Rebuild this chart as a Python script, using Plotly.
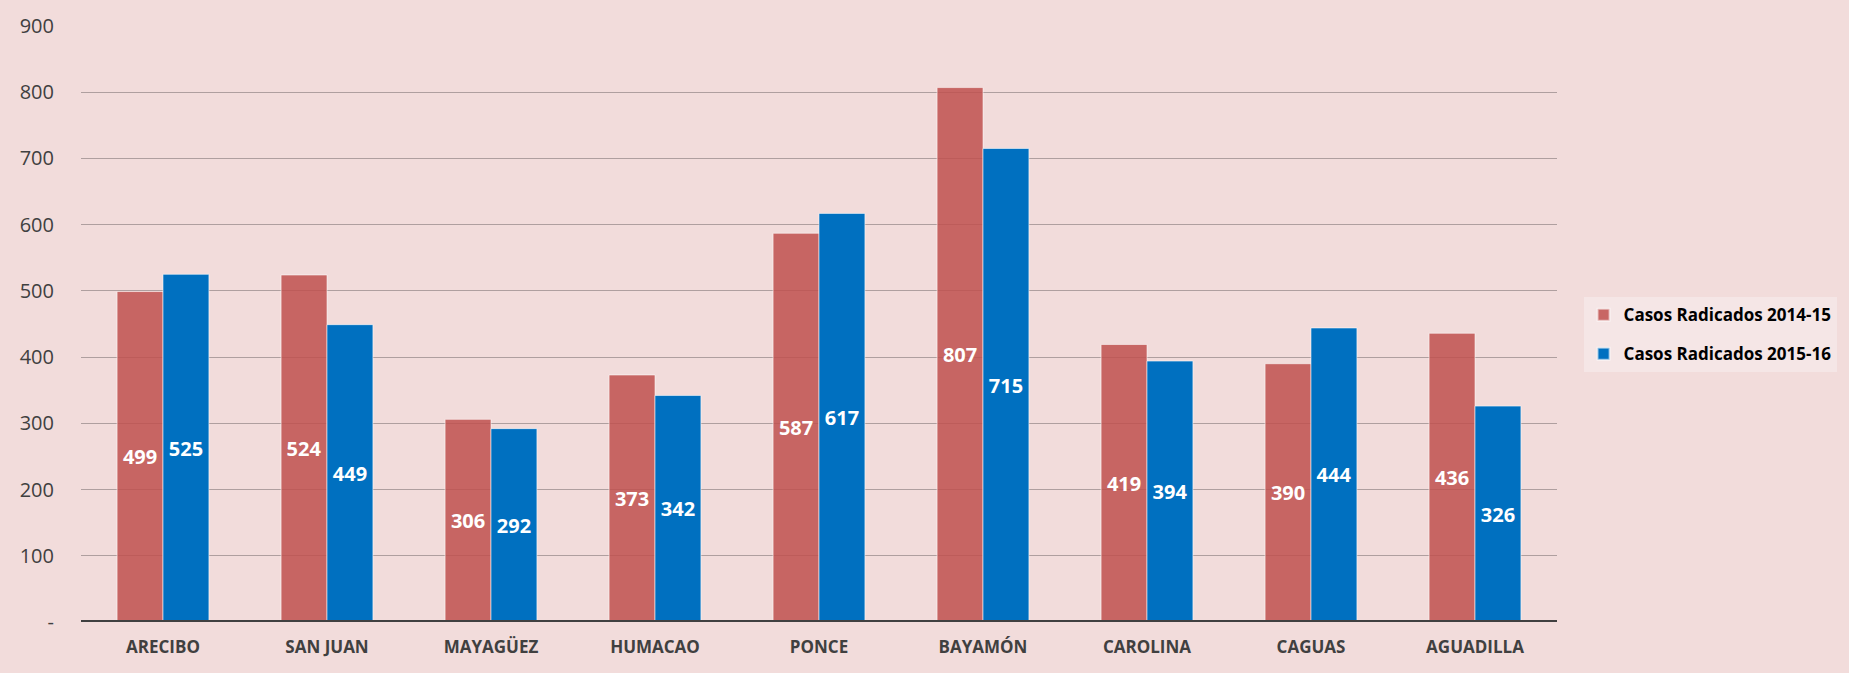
import plotly.graph_objects as go

regions = ["ARECIBO", "SAN JUAN", "MAYAGÜEZ", "HUMACAO", "PONCE", "BAYAMÓN", "CAROLINA", "CAGUAS", "AGUADILLA"]
casos_2014_15 = [499, 524, 306, 373, 587, 807, 419, 390, 436]
casos_2015_16 = [525, 449, 292, 342, 617, 715, 394, 444, 326]
series_names = ["Casos Radicados 2014-15", "Casos Radicados 2015-16"]
y_tickvals = [0, 100, 200, 300, 400, 500, 600, 700, 800, 900]
y_ticktext = ["-", "100", "200", "300", "400", "500", "600", "700", "800", "900"]

BG = "#F2DCDB"
FONT = "Open Sans"

fig = go.Figure()
fig.add_trace(go.Bar(
    x=regions, y=casos_2014_15, name=series_names[0], legendgroup="a",
    marker=dict(color="rgba(192,80,77,0.85)", line=dict(color="rgba(255,255,255,0.55)", width=1)),
    text=[str(v) for v in casos_2014_15], textposition="inside", insidetextanchor="middle",
    textfont=dict(family=FONT, size=20, color="white", weight="bold"),
    textangle=0,
))
fig.add_trace(go.Bar(
    x=regions, y=casos_2015_16, name=series_names[1], legendgroup="b",
    marker=dict(color="#0070C0", line=dict(color="rgba(255,255,255,0.55)", width=1)),
    text=[str(v) for v in casos_2015_16], textposition="inside", insidetextanchor="middle",
    textfont=dict(family=FONT, size=20, color="white", weight="bold"),
    textangle=0,
))

fig.update_layout(
    width=1849, height=673,
    paper_bgcolor=BG, plot_bgcolor=BG,
    barmode="group", bargap=0.44, bargroupgap=0.0,
    margin=dict(l=81, r=292, t=21, b=51),
    font=dict(family=FONT, color="#404040"),
    showlegend=True,
    legend=dict(
        x=1.018, y=0.545, xanchor="left", yanchor="top",
        bgcolor="#F5E6E6", borderwidth=0,
        font=dict(family=FONT, size=17, color="#000000", weight="bold"),
        itemsizing="constant", tracegroupgap=14,
    ),
    xaxis=dict(
        showgrid=False, showline=False, ticks="", ticklabelstandoff=13,
        tickfont=dict(family=FONT, size=17, color="#404040", weight="bold"),
    ),
    yaxis=dict(
        range=[0, 900], tickvals=y_tickvals, ticktext=y_ticktext,
        showgrid=True, gridcolor="rgba(120,110,110,0.55)", gridwidth=1,
        zeroline=False, showline=False, ticks="", ticklabelstandoff=26,
        tickfont=dict(family=FONT, size=20, color="#404040"),
    ),
    shapes=[dict(type="line", xref="paper", yref="y", x0=0, x1=1, y0=0, y1=0,
                 line=dict(color="#404040", width=4), layer="above")],
)

fig.write_html(
    "out.html",
    config={"displayModeBar": False},
    post_script="document.body.style.margin='0';document.body.style.padding='0';document.body.style.overflow='hidden';",
)
